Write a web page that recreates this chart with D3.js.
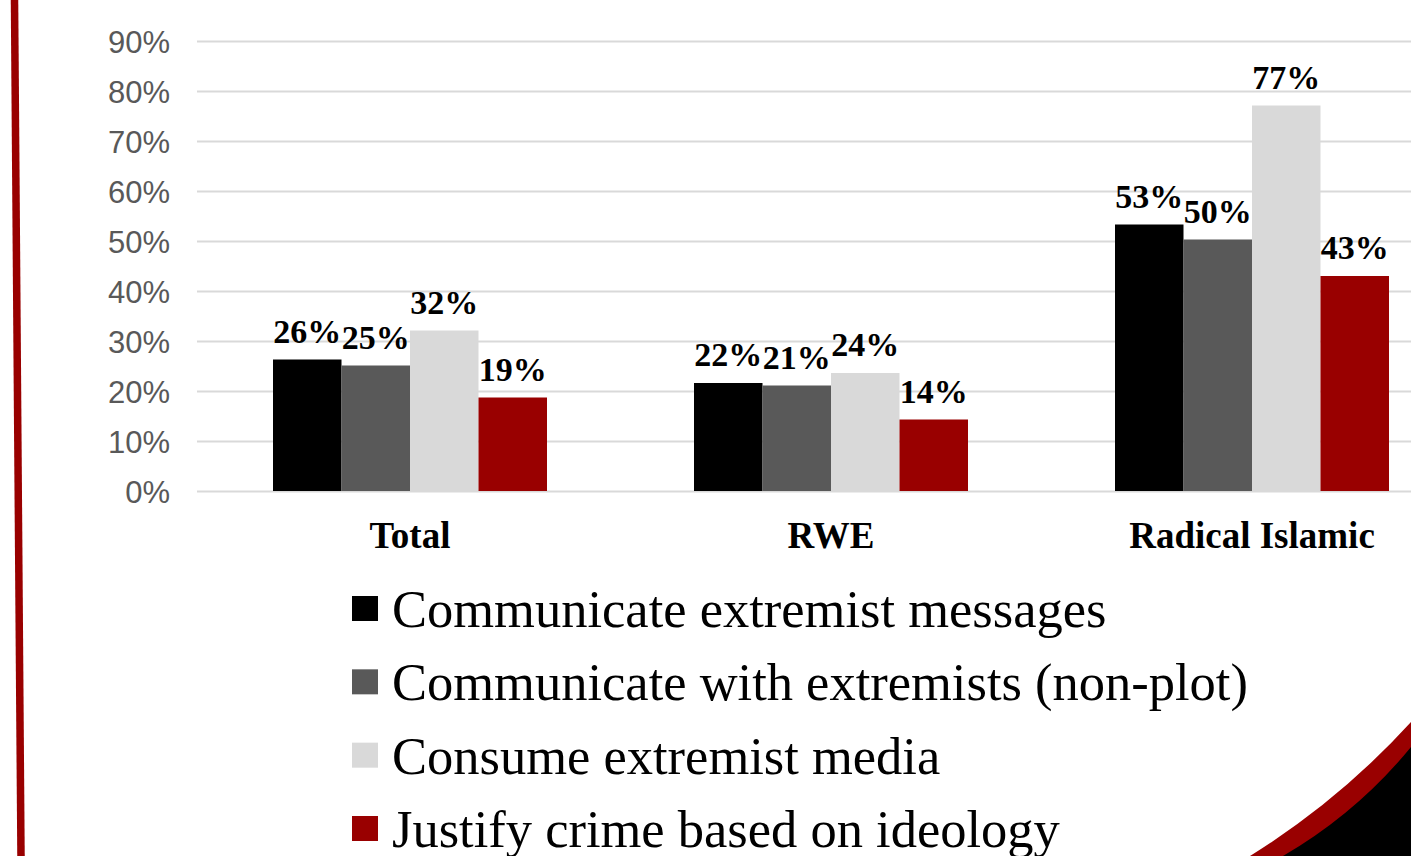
<!DOCTYPE html>
<html>
<head>
<meta charset="utf-8">
<script src="https://cdn.jsdelivr.net/npm/d3@7"></script>
<style>
  html, body { margin: 0; padding: 0; background: #fff; }
  svg { display: block; }
</style>
</head>
<body>
<svg id="chart" width="1411" height="856"></svg>
<script>
// Groups along the x axis
const categories = ["Total", "RWE", "Radical Islamic"];

// Series names, in legend order
const seriesNames = [
  "Communicate extremist messages",
  "Communicate with extremists (non-plot)",
  "Consume extremist media",
  "Justify crime based on ideology"
];

// Percent values per series, one per category
const communicateMessages = [26.3, 21.6, 53.3];
const communicateWith     = [25.1, 21.1, 50.3];
const consumeMedia        = [32.1, 23.6, 77.1];
const justifyCrime        = [18.7, 14.3, 43.0];

// Y axis ticks
const yTicks = [0, 10, 20, 30, 40, 50, 60, 70, 80, 90];

const seriesValues = [communicateMessages, communicateWith, consumeMedia, justifyCrime];
const seriesColors = ["#000000", "#595959", "#d9d9d9", "#990000"];

const W = 1411, H = 856;
const svg = d3.select("#chart");

// Background
svg.append("rect").attr("width", W).attr("height", H).attr("fill", "#ffffff");

// Scales
const y = d3.scaleLinear().domain([0, 90]).range([491, 41]);
const x0 = d3.scaleBand()
  .domain(categories)
  .range([199.5, 1462.5])
  .paddingInner(147 / 421)
  .paddingOuter(147 / 421 / 2);
const x1 = d3.scaleBand()
  .domain(seriesNames)
  .range([0, x0.bandwidth()])
  .padding(0);
const color = d3.scaleOrdinal().domain(seriesNames).range(seriesColors);

// Gridlines and y tick labels
const yAxis = d3.axisLeft(y)
  .tickValues(yTicks)
  .tickSize(-(W - 197))
  .tickFormat(d => d + "%");
const gy = svg.append("g").attr("transform", "translate(197,0)").call(yAxis);
gy.select(".domain").remove();
gy.selectAll(".tick line").attr("stroke", "#d9d9d9").attr("stroke-width", 2);
gy.selectAll(".tick text")
  .attr("x", -27)
  .attr("dy", "0.36em")
  .attr("fill", "#595959")
  .style("font-family", "'Liberation Sans', Arial, sans-serif")
  .style("font-size", "31px");

// Rows: one record per category/series pair
const rows = [];
categories.forEach((c, ci) => {
  seriesNames.forEach((s, si) => {
    rows.push({ category: c, series: s, value: seriesValues[si][ci] });
  });
});

const fmt = d3.format(".0%");

// Bars
svg.append("g").selectAll("rect")
  .data(rows)
  .join("rect")
  .attr("x", d => x0(d.category) + x1(d.series))
  .attr("y", d => y(d.value))
  .attr("width", x1.bandwidth())
  .attr("height", d => y(0) - y(d.value))
  .attr("fill", d => color(d.series));

// Value labels
svg.append("g").selectAll("text")
  .data(rows)
  .join("text")
  .attr("x", d => x0(d.category) + x1(d.series) + x1.bandwidth() / 2)
  .attr("y", d => y(d.value) - 17)
  .attr("text-anchor", "middle")
  .style("font-family", "'Liberation Serif', 'Times New Roman', serif")
  .style("font-weight", "bold")
  .style("font-size", "34px")
  .attr("fill", "#000")
  .text(d => fmt(d.value / 100));

// Category labels
svg.append("g").selectAll("text")
  .data(categories)
  .join("text")
  .attr("x", d => x0(d) + x0.bandwidth() / 2)
  .attr("y", 548)
  .attr("text-anchor", "middle")
  .style("font-family", "'Liberation Serif', 'Times New Roman', serif")
  .style("font-weight", "bold")
  .style("font-size", "37px")
  .attr("fill", "#000")
  .text(d => d);

// Legend
const legend = svg.append("g").attr("transform", "translate(352,0)");
const legendRow = d3.scalePoint().domain(seriesNames).range([627, 847]);
const items = legend.selectAll("g")
  .data(seriesNames)
  .join("g")
  .attr("transform", d => `translate(0,${legendRow(d)})`);
items.append("rect")
  .attr("x", 0).attr("y", -31)
  .attr("width", 26).attr("height", 25)
  .attr("fill", d => color(d));
items.append("text")
  .attr("x", 40).attr("y", 0)
  .style("font-family", "'Liberation Serif', 'Times New Roman', serif")
  .style("font-size", "52.5px")
  .attr("fill", "#000")
  .text(d => d);

// Decorative frame: slanted rule on the left, curved corner at bottom right
svg.append("line")
  .attr("x1", 14.5).attr("y1", 0)
  .attr("x2", 21).attr("y2", H)
  .attr("stroke", "#990000").attr("stroke-width", 7.5);

svg.append("path")
  .attr("d", "M1250,856 Q1340,800 1411,722 L1411,856 Z")
  .attr("fill", "#990000");
svg.append("path")
  .attr("d", "M1283,856 Q1357,813 1411,747 L1411,856 Z")
  .attr("fill", "#000000");
</script>
</body>
</html>
